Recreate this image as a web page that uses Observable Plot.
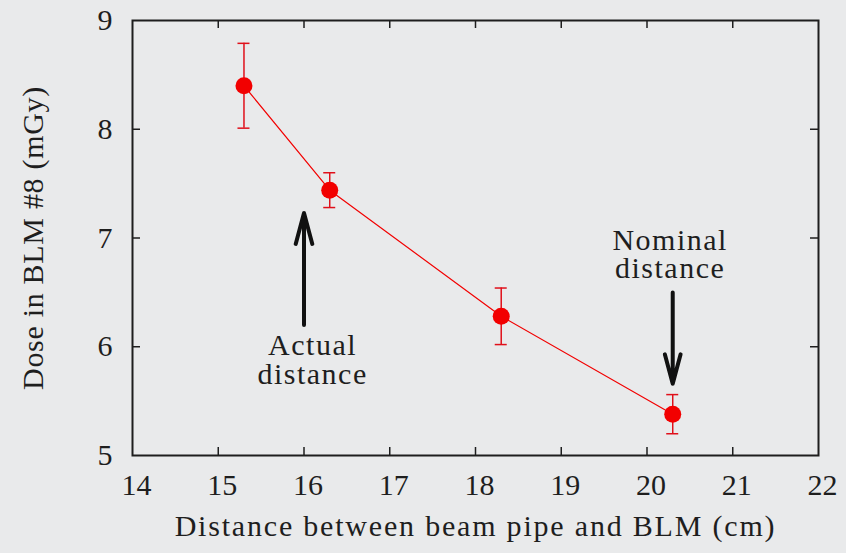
<!DOCTYPE html>
<html>
<head>
<meta charset="utf-8">
<script src="https://cdn.jsdelivr.net/npm/d3@7"></script>
<script src="https://cdn.jsdelivr.net/npm/@observablehq/plot@0.6"></script>
<style>
  html, body { margin: 0; padding: 0; background: #e9eaeb; }
</style>
</head>
<body>
<div id="chart"></div>
<script>
// Dose measured in BLM #8 versus beam-pipe distance
const distance = [15.3, 16.3, 18.3, 20.3];
const dose     = [8.40, 7.44, 6.28, 5.38];
const doseLow  = [8.01, 7.28, 6.02, 5.20];
const doseHigh = [8.79, 7.60, 6.54, 5.56];

const xTicks = [14, 15, 16, 17, 18, 19, 20, 21, 22];
const yTicks = [5, 6, 7, 8, 9];

// annotation arrows and their captions
const arrowX    = [16, 20.3];
const arrowFrom = [6.2, 6.5];
const arrowTo   = [7.23, 5.66];
const noteX     = [16.1, 20.27];
const noteY     = [6.11, 7.08];
const noteText  = ["Actual\ndistance", "Nominal\ndistance"];

const xTitle = "Distance between beam pipe and BLM (cm)";
const yTitle = "Dose in BLM #8 (mGy)";

const W = 846, H = 553;
const mL = 132, mR = 28, mT = 20, mB = 98;
const innerW = W - mL - mR, innerH = H - mT - mB;
const tickLen = 8;
const capHalf = 0.07;

const pts = distance.map((x, i) => ({x, y: dose[i], lo: doseLow[i], hi: doseHigh[i]}));
const arrows = arrowX.map((x, i) => ({x, y1: arrowFrom[i], y2: arrowTo[i]}));
const notes = noteText.map((t, i) => ({x: noteX[i], y: noteY[i], t}));
const inner = xTicks.slice(1, -1);
const innerY = yTicks.slice(1, -1);

const ink = "#1e1e1e";
const red = "#f20000";

const chart = Plot.plot({
  width: W, height: H,
  marginLeft: mL, marginRight: mR, marginTop: mT, marginBottom: mB,
  style: {fontFamily: "'Liberation Serif', 'Times New Roman', serif", fontSize: "30px", background: "#e9eaeb", color: ink},
  x: {domain: [14, 22], ticks: xTicks},
  y: {domain: [5, 9], ticks: yTicks},
  marks: [
    Plot.axisX(xTicks, {tickSize: 0, tickPadding: 18, dx: 4, label: null, fontSize: 30, tickFormat: d3.format("d")}),
    Plot.axisY(yTicks, {tickSize: 0, tickPadding: 20, label: null, fontSize: 30, tickFormat: d3.format("d")}),
    // inward tick marks on all four sides
    Plot.ruleX(inner, {insetTop: innerH - tickLen, stroke: ink, strokeWidth: 1.5}),
    Plot.ruleX(inner, {insetBottom: innerH - tickLen, stroke: ink, strokeWidth: 1.5}),
    Plot.ruleY(innerY, {insetRight: innerW - tickLen, stroke: ink, strokeWidth: 1.5}),
    Plot.ruleY(innerY, {insetLeft: innerW - tickLen, stroke: ink, strokeWidth: 1.5}),
    Plot.frame({stroke: ink, strokeWidth: 2}),
    // data
    Plot.line(pts, {x: "x", y: "y", stroke: red, strokeWidth: 1.2}),
    Plot.ruleX(pts, {x: "x", y1: "lo", y2: "hi", stroke: "#e0101a", strokeWidth: 1.5}),
    Plot.ruleY(pts, {y: "lo", x1: d => d.x - capHalf, x2: d => d.x + capHalf, stroke: "#e0101a", strokeWidth: 1.5}),
    Plot.ruleY(pts, {y: "hi", x1: d => d.x - capHalf, x2: d => d.x + capHalf, stroke: "#e0101a", strokeWidth: 1.5}),
    Plot.dot(pts, {x: "x", y: "y", r: 8.5, fill: red, stroke: "none"}),
    // annotations
    Plot.arrow(arrows, {x: "x", y1: "y1", y2: "y2", x1: "x", x2: "x", stroke: "#111", strokeWidth: 4, headLength: 12, headAngle: 30}),
    Plot.text(notes, {x: "x", y: "y", text: "t", lineAnchor: "top", lineHeight: 0.95, fontSize: 30, fill: ink}),
    // axis titles
    Plot.text([xTitle], {frameAnchor: "bottom", dy: 80, fontSize: 30, fill: ink}),
    Plot.text([yTitle], {frameAnchor: "left", textAnchor: "middle", rotate: -90, dx: -99, fontSize: 30, fill: ink})
  ]
});

// widen the tracking of the titles and captions a little
const noteFlat = noteText.map(t => t.replace("\n", ""));
d3.select(chart).selectAll("text").each(function() {
  const t = this.textContent;
  if (t === xTitle) this.style.letterSpacing = "1.8px";
  else if (t === yTitle) this.style.letterSpacing = "0.7px";
  else if (noteFlat.includes(t)) this.style.letterSpacing = "1.5px";
});

document.getElementById("chart").append(chart);
</script>
</body>
</html>
